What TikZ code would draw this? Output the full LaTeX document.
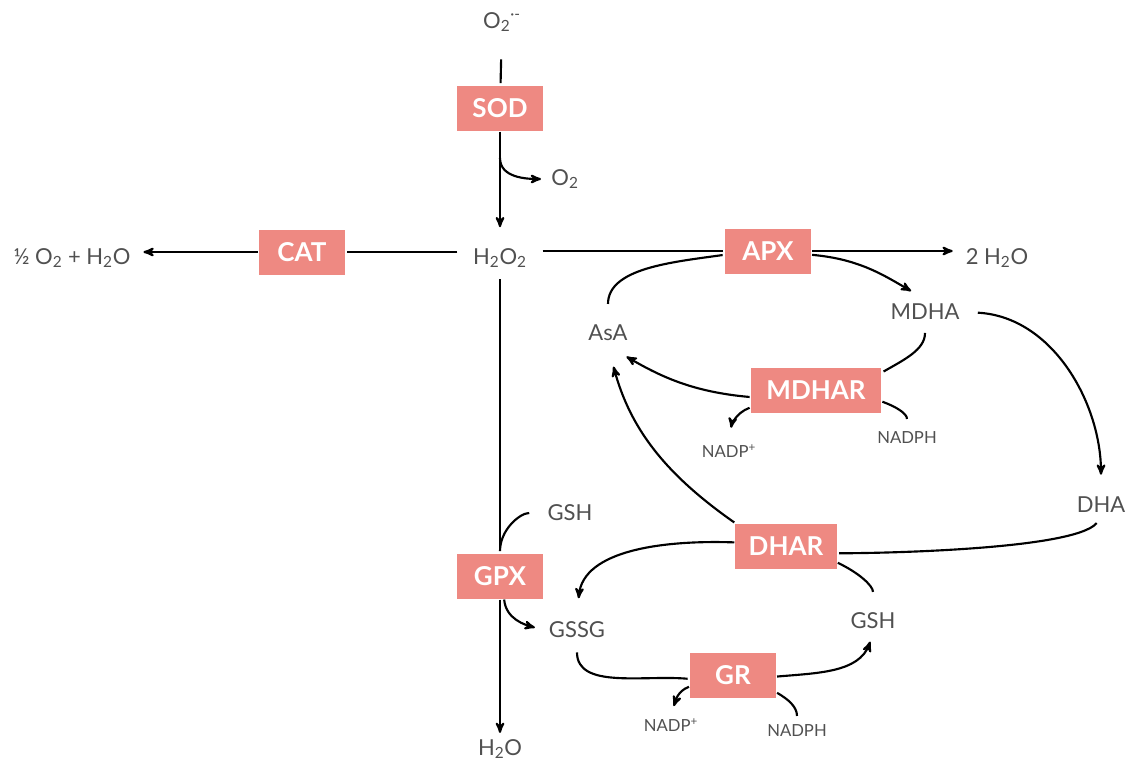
\documentclass[tikz,border=0pt]{standalone}
\usepackage{fontspec}
\setmainfont{Lato}
\usetikzlibrary{arrows,shapes,backgrounds}
\definecolor{enzfill}{RGB}{238,137,130}
\definecolor{molgray}{RGB}{80,80,80}

\begin{document}
\begin{tikzpicture}[x=0.75pt,y=-0.75pt,->,>=stealth',shorten >=1pt,line width=1.6pt,
    enzyme/.style={rectangle,fill=enzfill,text=white,inner sep=0pt,minimum width=64.5pt,
                   minimum height=33.75pt,font=\fontsize{19.5}{22}\selectfont\bfseries},
    mol/.style={text=molgray,inner sep=3pt,font=\fontsize{16.5}{19}\selectfont},
    cof/.style={text=molgray,inner sep=3pt,font=\fontsize{12.5}{14}\selectfont}]
  \useasboundingbox (0,0) rectangle (1129,760);

  % enzymes
  \node[enzyme] (sod) at (500,108) {SOD};
  \node[enzyme] (cat) at (302,252) {CAT};
  \node[enzyme] (apx) at (768,251) {APX};
  \node[enzyme,minimum width=98pt] (mdhar) at (816,390) {MDHAR};
  \node[enzyme,minimum width=76pt] (dhar) at (786,546) {DHAR};
  \node[enzyme] (gpx) at (500,576) {GPX};
  \node[enzyme] (gr) at (733,675) {GR};

  % molecules
  \node[mol] (o2rad) at (502,22) {O\textsubscript{2}\textsuperscript{·-}};
  \node[mol] (o2) at (565,179) {O\textsubscript{2}};
  \node[mol] (h2o2) at (500,258) {H\textsubscript{2}O\textsubscript{2}};
  \node[mol] (half) at (72,258) {½ O\textsubscript{2} + H\textsubscript{2}O};
  \node[mol] (twoh2o) at (997,258) {2 H\textsubscript{2}O};
  \node[mol] (asa) at (608,333) {AsA};
  \node[mol] (mdha) at (925,312) {MDHA};
  \node[mol] (dha) at (1101,505) {DHA};
  \node[mol] (gshl) at (570,513) {GSH};
  \node[mol] (gssg) at (577,630) {GSSG};
  \node[mol] (gshr) at (873,621) {GSH};
  \node[mol] (h2o) at (500,749) {H\textsubscript{2}O};

  % cofactors
  \node[cof] (nadpa) at (729,451) {NADP\textsuperscript{+}};
  \node[cof] (nadpha) at (907,438) {NADPH};
  \node[cof] (nadpb) at (671,725) {NADP\textsuperscript{+}};
  \node[cof] (nadphb) at (797,731) {NADPH};

  \coordinate (sodfork) at (500,158);

  % main axes
  \draw[-,shorten <=17pt] (o2rad) -- (sod);
  \draw[shorten >=12pt] (sod) -- (h2o2);
  \draw[-,shorten <=8pt] (h2o2.west |- cat) -- (cat);
  \draw[shorten >=6pt] (cat) -- (cat -| half.east);
  \draw[-,shorten <=8pt] (h2o2.east |- apx) -- (apx);
  \draw[shorten >=6pt] (apx) -- (apx -| twoh2o.west);
  \draw[-,shorten <=5pt] (h2o2) -- (gpx);
  \draw (gpx) -- (h2o);

  \path
   (sodfork) edge[out=-90,in=180,shorten >=4pt] (o2.west)
   (asa.north) edge[-,out=90,in=188,shorten <=12pt] (apx.185)
   (apx.-5) edge[out=-5,in=150,shorten >=12pt] (mdha.north)
   (mdha.south) edge[-,out=-90,in=30,shorten <=6pt] (mdhar.15)
   (mdhar.186) edge[out=175,in=-30,shorten >=16pt] (asa.south)
   (mdhar.195) edge[out=200,in=80,shorten >=9pt] (nadpa.north)
   (mdhar.-10) edge[-,out=-20,in=90,shorten >=6pt] (nadpha.north)
   (mdha.east) edge[out=-3,in=90,shorten <=10pt,shorten >=13pt] (dha.north)
   (dha.south) edge[-,out=-130,in=0,looseness=0.4,shorten <=5pt] (dhar.-8)
   (dhar.north west) edge[out=145,in=-75,shorten >=16pt] (asa.south)
   (dhar.176) edge[out=178,in=85,shorten >=14pt] (gssg.north)
   (dhar.-18) edge[-,out=-25,in=90,shorten >=12pt] (gshr.north)
   (gshl.west) edge[-,out=180,in=90,shorten <=10pt] (gpx.north)
   (gpx.-80) edge[out=-85,in=165,shorten >=7pt] (gssg.west)
   (gssg.south) edge[-,out=-90,in=175,shorten <=7pt] (gr.185)
   (gr.-2) edge[out=5,in=-110,shorten >=6pt] (gshr.south)
   (gr.195) edge[out=200,in=70,shorten >=6pt] (nadpb.north)
   (gr.-22) edge[-,out=-30,in=90,shorten >=3pt] (nadphb.north);
\end{tikzpicture}
\end{document}
